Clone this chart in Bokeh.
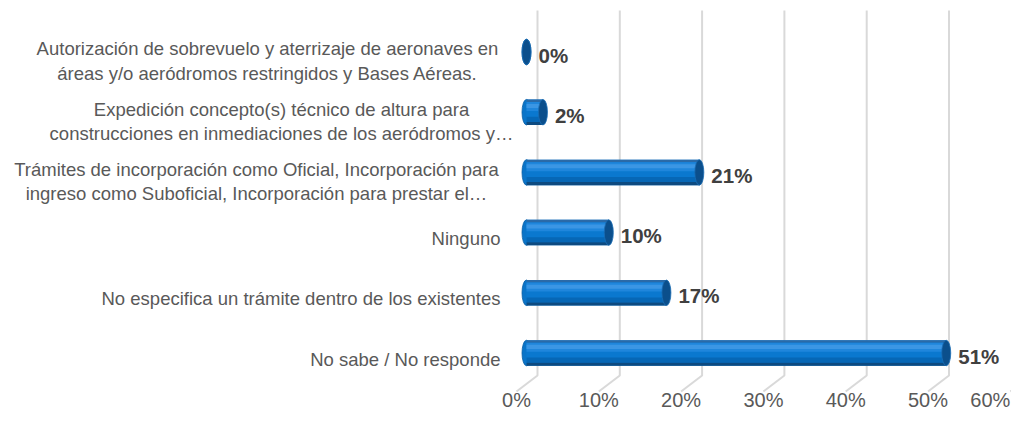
from bokeh.plotting import figure
from bokeh.models import Range1d
from bokeh.core.properties import value
from bokeh.embed import file_html
from bokeh.resources import INLINE

# ---------------- data ----------------
categories = [
    "No sabe / No responde",
    "No especifica un trámite dentro de los existentes",
    "Ninguno",
    "Trámites de incorporación como Oficial, Incorporación para\ningreso como Suboficial, Incorporación para prestar el…",
    "Expedición concepto(s) técnico de altura para\nconstrucciones en inmediaciones de los aeródromos y…",
    "Autorización de sobrevuelo y aterrizaje de aeronaves en\náreas y/o aeródromos restringidos y Bases Aéreas.",
]
values = [51, 17, 10, 21, 2, 0]
value_labels = ["51%", "17%", "10%", "21%", "2%", "0%"]
tick_values = [0, 10, 20, 30, 40, 50, 60]
tick_labels = ["0%", "10%", "20%", "30%", "40%", "50%", "60%"]

# ---------------- layout / style ----------------
W, H = 1011, 409
PX_X = 8.23          # pixels per 1 % on x
PX_Y = 60.2          # pixels per category step
FRONT0 = 516         # pixel of 0% on the front plane
BAR0 = 352.5         # pixel (from top) of first bar centre

def xd(px):  # pixel -> data x
    return (px - FRONT0) / PX_X

def yd(py):  # pixel (from top) -> data y
    return (BAR0 - py) / PX_Y

DEPTH_DX = 21 / PX_X          # back plane offset
BAR_DX = 10 / PX_X            # bar (mid depth) offset
GRID_TOP = yd(10)
GRID_BACK_BOTTOM = yd(375)
GRID_FRONT = yd(391)
TICK_Y = yd(399)
BAR_H = 25.5 / PX_Y

p = figure(width=W, height=H, output_backend="svg", toolbar_location=None,
           x_range=Range1d(xd(0), xd(W)), y_range=Range1d(yd(H), yd(0)),
           x_axis_location=None, y_axis_location=None, min_border=0,
           outline_line_color=None, background_fill_color="white",
           border_fill_color="white")
p.xgrid.visible = False
p.ygrid.visible = False

# 3D grid lines (back wall + floor)
grid_xs = [[t + DEPTH_DX, t + DEPTH_DX, t] for t in tick_values]
grid_ys = [[GRID_TOP, GRID_BACK_BOTTOM, GRID_FRONT] for _ in tick_values]
p.multi_line(grid_xs, grid_ys, line_color="#d9d9d9", line_width=2)

# tick labels (last one nudged so it stays inside the frame)
tick_offsets = [0] * (len(tick_values) - 1) + [-20]
p.text(x=tick_values, y=[TICK_Y] * len(tick_values), text=tick_labels,
       x_offset=tick_offsets,
       text_font=value("Liberation Sans"), text_font_size="20px",
       text_color="#595959", text_align="center", text_baseline="middle")

# bars (cylinders)
ys = list(range(len(categories)))
x0 = [BAR_DX] * len(values)
x1 = [BAR_DX + v for v in values]

# left rounded end
p.ellipse(x=x0, y=ys, width=9, height=25.5, width_units="screen",
          height_units="screen", fill_color="#0a74c8", line_color="#0a5fa6",
          line_width=0.8)

bands = [  # (top fraction, bottom fraction, colour)
    (0.00, 1.00, "#0a78cf"),
    (0.00, 0.10, "#2a6aa8"),
    (0.10, 0.45, "#1f86dc"),
    (0.18, 0.34, "#3b96e4"),
    (0.68, 0.88, "#0667b6"),
    (0.88, 1.00, "#0d4a80"),
]
for ft, fb, col in bands:
    p.quad(left=x0, right=x1,
           top=[y + BAR_H / 2 - ft * BAR_H for y in ys],
           bottom=[y + BAR_H / 2 - fb * BAR_H for y in ys],
           fill_color=col, line_color=None)

# right end face
p.ellipse(x=x1, y=ys, width=9, height=25.5, width_units="screen",
          height_units="screen", fill_color="#0b4f8c", line_color="#1a6db5",
          line_width=0.8)

# value labels
p.text(x=x1, y=ys, text=value_labels, x_offset=12, y_offset=3,
       text_font=value("Liberation Sans"), text_font_style="bold",
       text_font_size="20.5px", text_color="#404040",
       text_align="left", text_baseline="middle")

# category labels
single = [i for i, c in enumerate(categories) if "\n" not in c]
multi = [i for i, c in enumerate(categories) if "\n" in c]
p.text(x=[xd(500)] * len(single), y=[ys[i] for i in single],
       text=[categories[i] for i in single], y_offset=6,
       text_font=value("Liberation Sans"), text_font_size="18.5px",
       text_color="#595959", text_align="right", text_baseline="middle")
multi_centers_px = {3: 256, 4: 281, 5: 267}
p.text(x=[xd(multi_centers_px[i]) for i in multi], y=[ys[i] for i in multi],
       text=[categories[i] for i in multi], y_offset=9,
       text_font=value("Liberation Sans"), text_font_size="18.5px",
       text_line_height=1.15,
       text_color="#595959", text_align="center", text_baseline="middle")

open("out.html", "w").write(file_html(p, INLINE))
